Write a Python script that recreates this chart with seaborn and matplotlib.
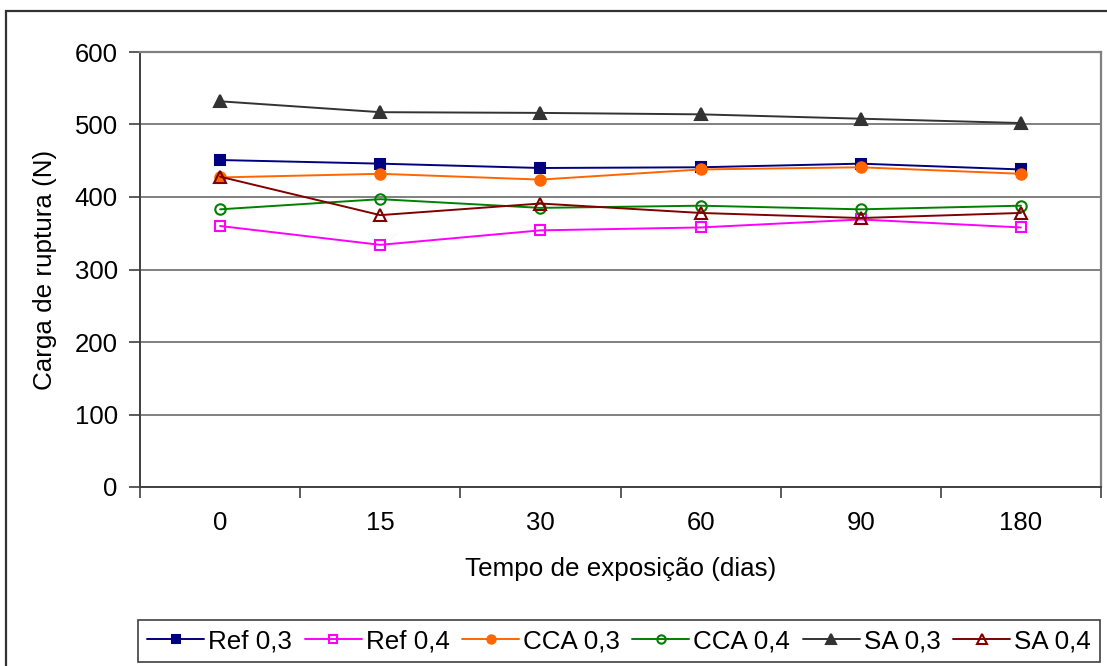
import numpy as np
import pandas as pd
import matplotlib
matplotlib.use("Agg")
import matplotlib.pyplot as plt
from matplotlib.patches import Rectangle
import seaborn as sns

# dados
tempo = ["0", "15", "30", "60", "90", "180"]
ref_03 = [451, 446, 440, 441, 446, 438]
ref_04 = [360, 334, 354, 358, 369, 358]
cca_03 = [427, 432, 424, 438, 441, 432]
cca_04 = [383, 397, 385, 388, 383, 388]
sa_03 = [532, 517, 516, 514, 508, 502]
sa_04 = [428, 375, 391, 378, 371, 378]

series = ["Ref 0,3", "Ref 0,4", "CCA 0,3", "CCA 0,4", "SA 0,3", "SA 0,4"]
valores = [ref_03, ref_04, cca_03, cca_04, sa_03, sa_04]
cores = ["#000080", "#FF00FF", "#FF6600", "#008000", "#333333", "#800000"]
marcadores = ["s", "s", "o", "o", "^", "^"]
cheio = [True, False, True, False, True, False]

df = pd.DataFrame({
    "tempo": tempo * len(series),
    "carga": np.concatenate(valores),
    "serie": np.repeat(series, len(tempo)),
})

sns.set_theme(style="white")
plt.rcParams["font.family"] = ["Liberation Sans", "DejaVu Sans"]
for k in ["text.color", "axes.labelcolor", "xtick.labelcolor", "ytick.labelcolor"]:
    plt.rcParams[k] = "black"

fig = plt.figure(figsize=(11.07, 6.66), dpi=100)
ax = fig.add_axes([140 / 1107, 1 - 487 / 666, 961 / 1107, 435 / 666])

for nome, cor, mk, fill in zip(series, cores, marcadores, cheio):
    sub = df[df["serie"] == nome]
    ms = 8.5 if mk == "^" else 7.5
    sns.lineplot(data=sub, x="tempo", y="carga", sort=False, errorbar=None,
                 color=cor, lw=1.4, marker=mk, ms=ms,
                 mfc=cor if fill else "none", mec=cor, mew=1.5,
                 label=nome, ax=ax)

ax.set_xlim(-0.5, 5.5)
ax.set_ylim(0, 600)
ax.set_yticks(np.arange(0, 601, 100))
ax.set_xticks(np.arange(-0.5, 6, 1), labels=[""] * 7)
ax.set_xticks(np.arange(6), labels=tempo, minor=True)
ax.tick_params(axis="x", which="major", direction="out", length=8, width=1.2,
               color="#404040", bottom=True)
ax.tick_params(axis="x", which="minor", length=0, pad=17, labelsize=18.5)
ax.tick_params(axis="y", direction="out", length=8, width=1.2, color="#404040",
               left=True, pad=8, labelsize=18.5)
ax.grid(axis="y", color="#808080", lw=1.4)
ax.grid(axis="x", visible=False)
ax.set_axisbelow(True)

for s in ["left", "bottom"]:
    ax.spines[s].set_color("#404040")
    ax.spines[s].set_linewidth(1.4)
for s in ["top", "right"]:
    ax.spines[s].set_color("#808080")
    ax.spines[s].set_linewidth(1.6)

ax.set_xlabel("Tempo de exposição (dias)", fontsize=18.7, va="top")
ax.set_ylabel("Carga de ruptura (N)", fontsize=18.7)
ax.xaxis.set_label_coords(0.5, -0.16)
ax.yaxis.set_label_coords(-0.086, 0.5)

handles, labels = ax.get_legend_handles_labels()
ax.get_legend().remove()
leg = fig.legend(handles, labels, loc="center", ncol=6,
                 bbox_to_anchor=(619 / 1107, 1 - 641 / 666),
                 fontsize=18.7, frameon=True, fancybox=False, framealpha=1,
                 edgecolor="#404040", handlelength=2.2, handletextpad=0.15,
                 columnspacing=0.48, borderpad=0.35, markerscale=0.8)
leg.get_frame().set_linewidth(1.2)

# borda externa do grafico
fig.patches.append(Rectangle((6 / 1107, -0.02), 1.02, 1 - 11 / 666 + 0.02,
                             transform=fig.transFigure, fill=False,
                             edgecolor="#333333", lw=1.6))

fig.savefig("out.png", dpi=100)
